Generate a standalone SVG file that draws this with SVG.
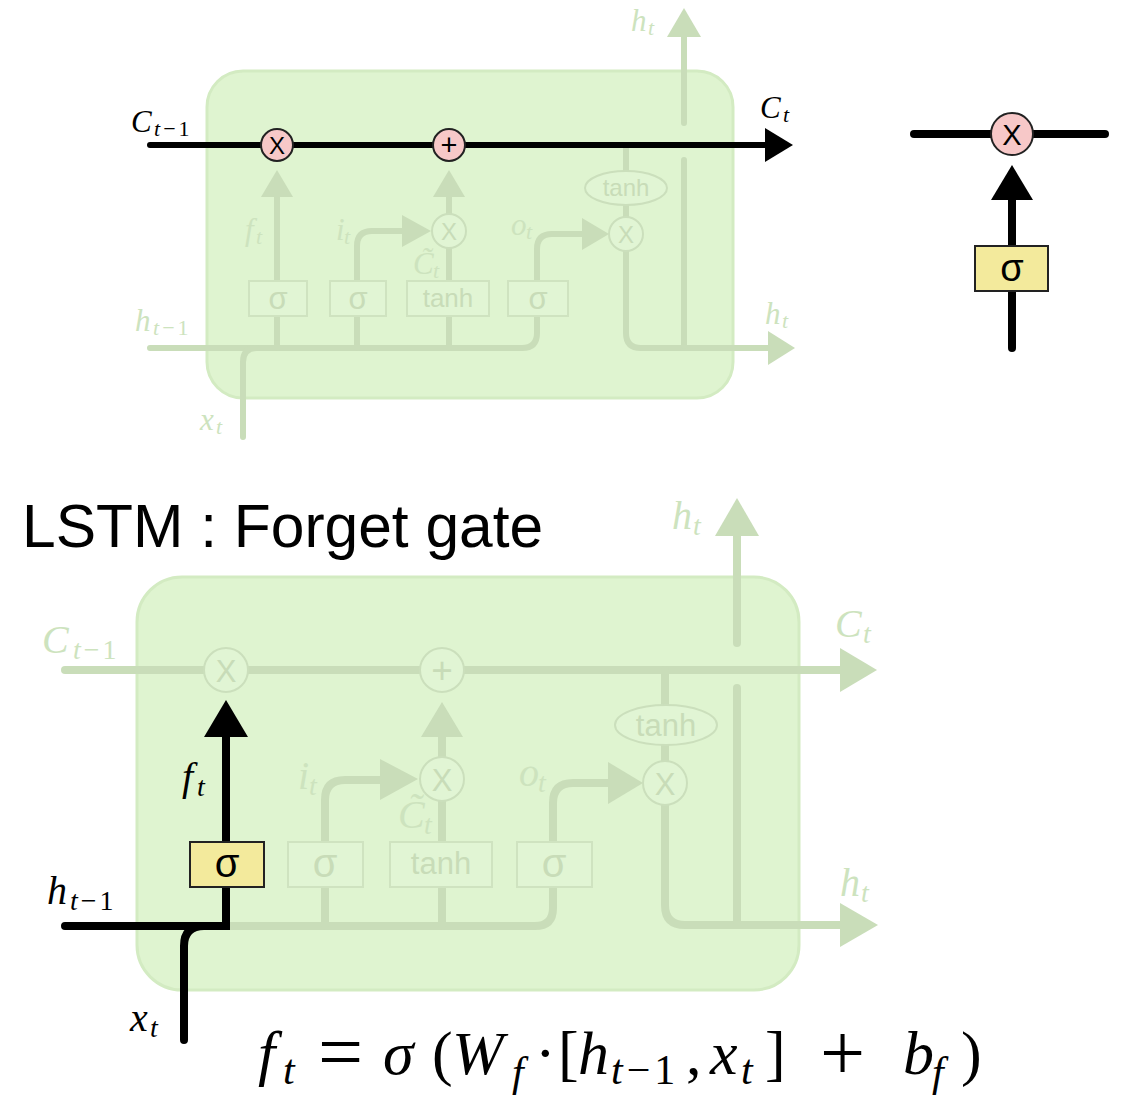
<svg xmlns="http://www.w3.org/2000/svg" width="1127" height="1115" viewBox="0 0 1127 1115">
<style>
.cell{fill:#dff4d0;stroke:#d3ebc2;stroke-width:3}
.fl{fill:none;stroke:#c9ddb9;stroke-width:6;stroke-linecap:round;stroke-linejoin:round}
.fl8{fill:none;stroke:#c9ddb9;stroke-width:8;stroke-linecap:round;stroke-linejoin:round}
.fa{fill:#c9ddb9}
.bl{fill:none;stroke:#000;stroke-width:6;stroke-linecap:round}
.bl8{fill:none;stroke:#000;stroke-width:8;stroke-linecap:round}
.ba{fill:#000}
.fbox{fill:#e1f5d4;stroke:#cfe3c0;stroke-width:2}
.fcirc{fill:#e1f5d4;stroke:#cbdfbc;stroke-width:2}
.pink{fill:#f7c8c8;stroke:#222;stroke-width:2}
.yel{fill:#f3ea9c;stroke:#222;stroke-width:2}
.st{font-family:"Liberation Sans","DejaVu Sans",sans-serif;text-anchor:middle}
.fst{fill:#c8dcb8}
.m{font-family:"Liberation Serif","DejaVu Serif",serif;font-style:italic}
.fm{fill:#cde3be}
.r{font-style:normal}
.s1{font-size:22px}
.s2{font-size:28px}
</style>

<!-- ===== Top cell ===== -->
<g id="top-cell">
<rect class="cell" x="207" y="71" width="526" height="327" rx="36"/>
</g>
<g id="top-connectors">
<path class="fl" d="M150,348 H522 Q537,348 537,333 V316"/>
<path class="fl" d="M243,437 V362 Q243,348 257,348"/>
<path class="fl" d="M277,348 V316 M277,281 V197"/>
<polygon class="fa" points="261,197 293,197 277,170"/>
<path class="fl" d="M357,348 V316 M357,281 V246 Q357,231 372,231 H404"/>
<polygon class="fa" points="402,215 402,247 431,231"/>
<path class="fl" d="M449,348 V316 M449,281 V248 M449,214 V197"/>
<polygon class="fa" points="433,197 465,197 449,170"/>
<path class="fl" d="M537,281 V249 Q537,234 552,234 H584"/>
<polygon class="fa" points="582,218 582,250 609,234"/>
<path class="fl" d="M626,145 V171 M626,205 V217 M626,251 V333 Q626,348 641,348 H770"/>
<polygon class="fa" points="768,331 768,365 795,348"/>
<path class="fl" d="M684,160 V346"/>
<path class="fl" d="M684,123 V37"/>
<polygon class="fa" points="667,37 701,37 684,8"/>
<path class="bl" d="M150,145 H768" stroke-linecap="butt"/>
<polygon class="ba" points="765,128 765,162 793,145"/>
</g>
<g id="top-nodes">
<g id="top-sig-f"><rect class="fbox" x="249" y="281" width="58" height="35"/><text class="st fst" x="278" y="309" font-size="31">σ</text></g>
<g id="top-sig-i"><rect class="fbox" x="330" y="281" width="56" height="35"/><text class="st fst" x="358" y="309" font-size="31">σ</text></g>
<g id="top-tanh"><rect class="fbox" x="407" y="281" width="82" height="35"/><text class="st fst" x="448" y="307" font-size="26">tanh</text></g>
<g id="top-sig-o"><rect class="fbox" x="508" y="281" width="60" height="35"/><text class="st fst" x="538" y="309" font-size="31">σ</text></g>
<g id="top-mul-i"><circle class="fcirc" cx="449" cy="231" r="17"/><text class="st fst" x="449" y="240" font-size="24">X</text></g>
<g id="top-mul-o"><circle class="fcirc" cx="626" cy="234" r="17"/><text class="st fst" x="626" y="243" font-size="24">X</text></g>
<g id="top-tanh2"><ellipse class="fcirc" cx="626" cy="188" rx="41" ry="17"/><text class="st fst" x="626" y="196" font-size="24">tanh</text></g>
<g id="top-mul-f"><circle class="pink" cx="277" cy="145" r="16"/><text class="st" x="277" y="154" font-size="24">X</text></g>
<g id="top-add"><circle class="pink" cx="449" cy="145" r="16"/><text class="st" x="449" y="155" font-size="29">+</text></g>
</g>
<g id="top-labels" font-size="31">
<text class="m" x="131" y="132">C<tspan class="s1" x="154" dy="4" letter-spacing="3">t<tspan class="r">−1</tspan></tspan></text>
<text class="m" x="760" y="118">C<tspan class="s1" x="783" dy="4">t</tspan></text>
<text class="m fm" x="631" y="31">h<tspan class="s1" x="648" dy="4">t</tspan></text>
<text class="m fm" x="245" y="240">f<tspan class="s1" x="256" dy="4">t</tspan></text>
<text class="m fm" x="336" y="240">i<tspan class="s1" x="344" dy="4">t</tspan></text>
<text class="m fm" x="413" y="274">C̃<tspan class="s1" x="433" dy="4">t</tspan></text>
<text class="m fm" x="511" y="235">o<tspan class="s1" x="526" dy="4">t</tspan></text>
<text class="m fm" x="135" y="331">h<tspan class="s1" x="153" dy="4" letter-spacing="3">t<tspan class="r">−1</tspan></tspan></text>
<text class="m fm" x="765" y="324">h<tspan class="s1" x="782" dy="4">t</tspan></text>
<text class="m fm" x="200" y="430">x<tspan class="s1" x="216" dy="4">t</tspan></text>
</g>

<!-- ===== Right small ===== -->
<g id="small-connectors">
<path class="bl8" d="M914,134 H1105"/>
<path class="bl8" d="M1012,348 V198"/>
<polygon class="ba" points="991,200 1033,200 1012,165"/>
</g>
<g id="small-mul"><circle class="pink" cx="1012" cy="134" r="21"/><text class="st" x="1012" y="145" font-size="29">X</text></g>
<g id="small-sig"><rect class="yel" x="975" y="246" width="73" height="45"/><text class="st" x="1012" y="281" font-size="38">σ</text></g>

<!-- ===== Title ===== -->
<text id="title" x="22" y="547" font-family="Liberation Sans, Arial, sans-serif" font-size="60.5" fill="#000">LSTM : Forget gate</text>

<!-- ===== Bottom cell ===== -->
<g id="bottom-cell">
<rect class="cell" x="137" y="577" width="662" height="413" rx="45"/>
</g>
<g id="bottom-connectors">
<path class="fl8" d="M65,670 H842" stroke-linecap="butt"/>
<polygon class="fa" points="840,648 840,692 877,670"/>
<path class="fl8" d="M442,756 V735"/>
<polygon class="fa" points="421,737 463,737 442,702"/>
<path class="fl8" d="M226,926 H535 Q553,926 553,908 V887"/>
<path class="fl8" d="M325,926 V887 M325,842 V800 Q325,780 345,780 H382"/>
<polygon class="fa" points="380,759 380,800 418,779"/>
<path class="fl8" d="M442,926 V887 M442,842 V801"/>
<path class="fl8" d="M553,842 V803 Q553,783 573,783 H610"/>
<polygon class="fa" points="608,762 608,804 643,783"/>
<path class="fl8" d="M665,670 V705 M665,745 V761 M665,805 V905 Q665,925 685,925 H842"/>
<polygon class="fa" points="840,903 840,947 878,925"/>
<path class="fl8" d="M737,688 V921"/>
<path class="fl8" d="M737,643 V535"/>
<polygon class="fa" points="715,536 759,536 737,498"/>
<path class="bl8" d="M226,842 V735" stroke-linecap="butt"/>
<polygon class="ba" points="204,737 248,737 226,700"/>
<path class="bl8" d="M65,926 H226 V887" stroke-linejoin="miter"/>
<path class="bl8" d="M184,1040 V946 Q184,926 204,926 H226"/>
</g>
<g id="bottom-nodes">
<g id="bot-mul-f"><circle class="fcirc" cx="226" cy="670" r="22"/><text class="st fst" x="226" y="682" font-size="31">X</text></g>
<g id="bot-add"><circle class="fcirc" cx="442" cy="670" r="22"/><text class="st fst" x="442" y="683" font-size="37">+</text></g>
<g id="bot-mul-i"><circle class="fcirc" cx="442" cy="779" r="22"/><text class="st fst" x="442" y="791" font-size="31">X</text></g>
<g id="bot-mul-o"><circle class="fcirc" cx="665" cy="783" r="22"/><text class="st fst" x="665" y="795" font-size="31">X</text></g>
<g id="bot-tanh2"><ellipse class="fcirc" cx="666" cy="725" rx="51" ry="20"/><text class="st fst" x="666" y="736" font-size="31">tanh</text></g>
<g id="bot-sig-i"><rect class="fbox" x="288" y="842" width="75" height="45"/><text class="st fst" x="325" y="877" font-size="40">σ</text></g>
<g id="bot-tanh"><rect class="fbox" x="390" y="842" width="102" height="45"/><text class="st fst" x="441" y="874" font-size="31">tanh</text></g>
<g id="bot-sig-o"><rect class="fbox" x="517" y="842" width="75" height="45"/><text class="st fst" x="554" y="877" font-size="40">σ</text></g>
<g id="bot-sig-f"><rect class="yel" x="190" y="842" width="74" height="45"/><text class="st" x="227" y="877" font-size="40">σ</text></g>
</g>
<g id="bottom-labels" font-size="40">
<text class="m fm" x="42" y="653">C<tspan class="s2" x="73" dy="6" letter-spacing="3">t<tspan class="r">−1</tspan></tspan></text>
<text class="m fm" x="835" y="637">C<tspan class="s2" x="863" dy="6">t</tspan></text>
<text class="m fm" x="672" y="529">h<tspan class="s2" x="693" dy="6">t</tspan></text>
<text class="m" x="182" y="790">f<tspan class="s2" x="197" dy="6">t</tspan></text>
<text class="m fm" x="298" y="789">i<tspan class="s2" x="309" dy="6">t</tspan></text>
<text class="m fm" x="398" y="828">C̃<tspan class="s2" x="424" dy="6">t</tspan></text>
<text class="m fm" x="519" y="786">o<tspan class="s2" x="538" dy="6">t</tspan></text>
<text class="m" x="47" y="904">h<tspan class="s2" x="70" dy="6" letter-spacing="3">t<tspan class="r">−1</tspan></tspan></text>
<text class="m fm" x="840" y="896">h<tspan class="s2" x="861" dy="6">t</tspan></text>
<text class="m" x="130" y="1031">x<tspan class="s2" x="150" dy="6">t</tspan></text>
</g>

<!-- ===== Equation ===== -->
<g id="equation" font-family="Liberation Serif, DejaVu Serif, serif" font-size="62" fill="#000">
<text class="m" x="258" y="1074">f</text>
<text class="m" x="283" y="1084" font-size="42">t</text>
<text x="318" y="1079" font-size="80">=</text>
<text class="m" x="383" y="1074">σ</text>
<text x="432" y="1074">(</text>
<text class="m" x="452" y="1074">W</text>
<text class="m" x="512" y="1086" font-size="42">f</text>
<text x="535" y="1074">·</text>
<text x="558" y="1074">[</text>
<text class="m" x="578" y="1074">h</text>
<text class="m" x="611" y="1084" font-size="42" letter-spacing="4">t<tspan class="r">−1</tspan></text>
<text x="686" y="1074">,</text>
<text class="m" x="710" y="1074">x</text>
<text class="m" x="741" y="1084" font-size="42">t</text>
<text x="765" y="1074">]</text>
<text x="820" y="1080" font-size="80">+</text>
<text class="m" x="903" y="1074">b</text>
<text class="m" x="932" y="1086" font-size="42">f</text>
<text x="961" y="1074">)</text>
</g>
</svg>
